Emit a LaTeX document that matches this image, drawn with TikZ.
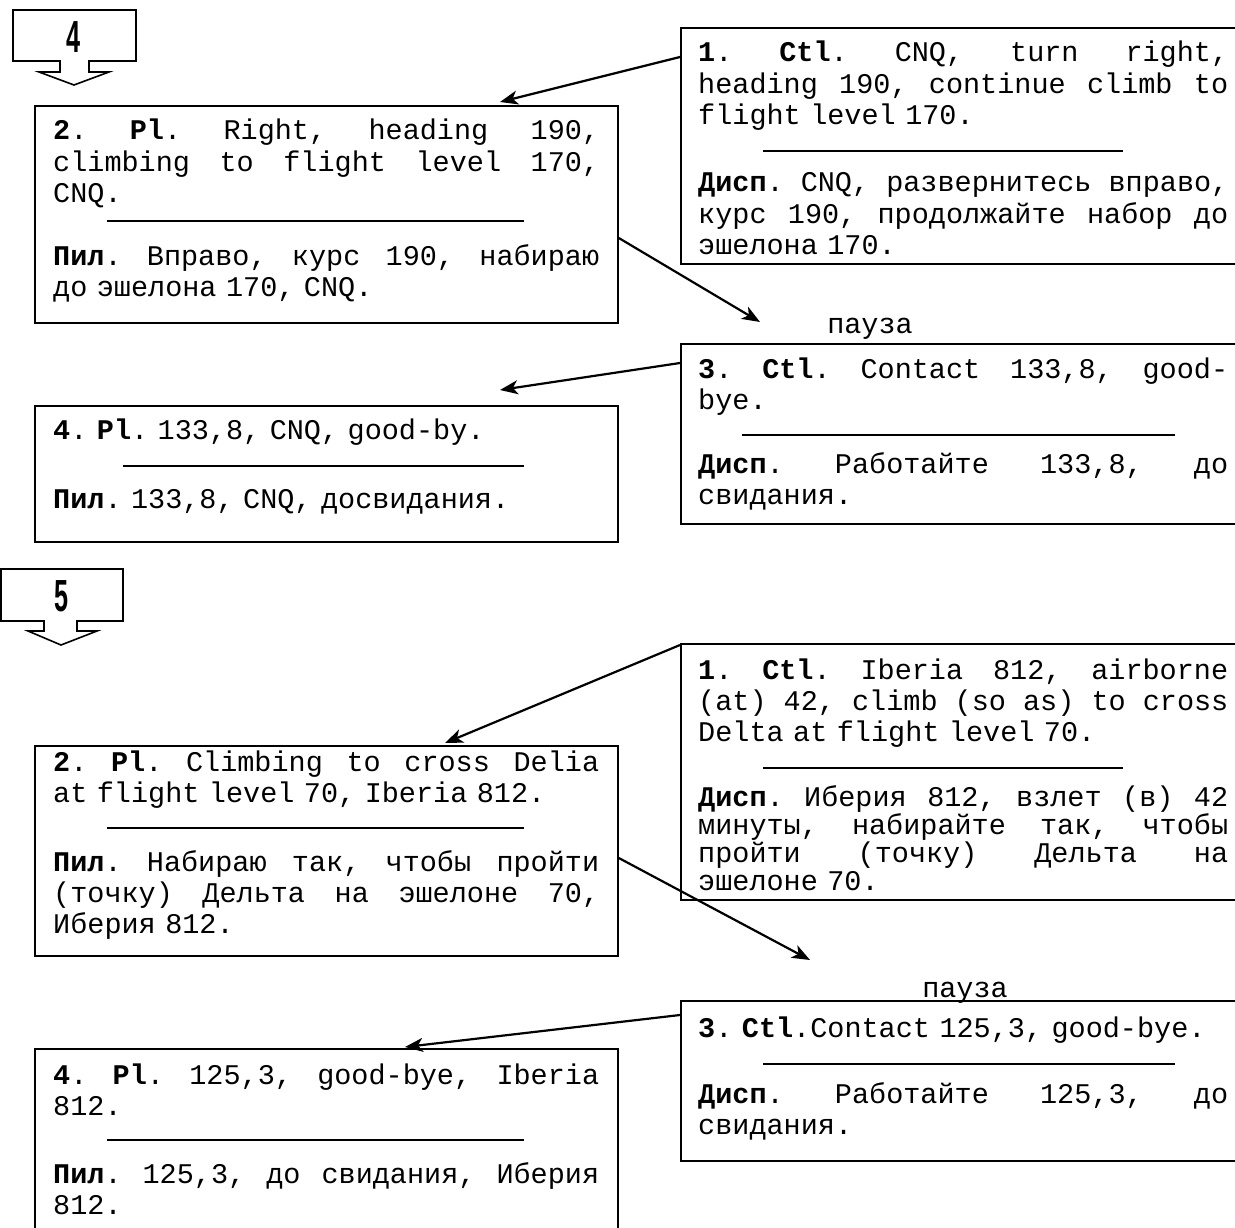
\documentclass[tikz,border=0pt]{standalone}
\usepackage{fontspec}
\usepackage{graphicx}
\setmonofont{Liberation Mono}
\setsansfont{Liberation Sans}
\usetikzlibrary{arrows.meta}
\frenchspacing

% monospaced body text, fixed word spaces; \jl spreads a line to the full width
\newcommand\msz{\ttfamily\fontsize{28.5}{31.3}\selectfont\spaceskip=.6em\relax}
\newcommand\mszt{\ttfamily\fontsize{28.5}{28}\selectfont\spaceskip=.6em\relax\lineskiplimit=-50pt\relax}
\newcommand\jl[1]{\makebox[\linewidth][s]{\spaceskip=.6em plus 1fil\relax#1}}
\newcommand\stepnum[1]{\scalebox{0.56}[1]{\sffamily\bfseries\fontsize{45}{45}\selectfont #1}}

\tikzset{
  frame/.style={draw, line width=1.8pt, inner sep=0pt, anchor=north west},
  txtL/.style={anchor=base west, inner sep=0pt, text width=546pt, align=left, font=\msz},
  txtR/.style={anchor=base west, inner sep=0pt, text width=530pt, align=left, font=\msz},
  sepline/.style={line width=1.6pt},
  link/.style={line width=2.2pt, -{Stealth[length=18pt,width=14pt,inset=5pt]}},
  pause/.style={anchor=base, inner sep=0pt, font=\msz},
  stepsign/.style={line width=1.6pt, line join=miter},
}

\begin{document}
\begin{tikzpicture}[x=1pt,y=-1pt]
\useasboundingbox (0,0) rectangle (1235,1228);
\clip (0,0) rectangle (1235,1228);

% ---------------- step 4 ----------------
\draw[stepsign] (13,10) -- (136,10) -- (136,61) -- (89,61) -- (89,72) -- (109,72)
  -- (74,85) -- (39,72) -- (60,72) -- (60,61) -- (13,61) -- cycle;
\node[inner sep=0pt] (n4) at (74,37) {\stepnum{4}};

\node[frame, minimum width=620pt, minimum height=236pt] (a1) at (680,27) {};
\node[txtR] (a1e) at (698,62) {\jl{\textbf{1}. \textbf{Ctl}. CNQ, turn right,}\\
  \jl{heading 190, continue climb to}\\ flight level 170.};
\draw[sepline] (763,151) -- (1123,151);
\node[txtR] (a1r) at (698,192) {\jl{\textbf{Дисп}. CNQ, развернитесь вправо,}\\
  \jl{курс 190, продолжайте набор до}\\ эшелона 170.};

\node[frame, minimum width=583pt, minimum height=217pt] (a2) at (34,105) {};
\node[txtL] (a2e) at (53,140) {\jl{\textbf{2}. \textbf{Pl}. Right, heading 190,}\\
  \jl{climbing to flight level 170,}\\ CNQ.};
\draw[sepline] (107,221) -- (524,221);
\node[txtL] (a2r) at (53,265) {\jl{\textbf{Пил}. Вправо, курс 190, набираю}\\
  до эшелона 170, CNQ.};

\node[pause] (p4) at (870,333) {пауза};

\node[frame, minimum width=620pt, minimum height=180pt] (a3) at (680,343) {};
\node[txtR] (a3e) at (698,378) {\jl{\textbf{3}. \textbf{Ctl}. Contact 133,8, good-}\\ bye.};
\draw[sepline] (742,435) -- (1175,435);
\node[txtR] (a3r) at (698,473) {\jl{\textbf{Дисп}. Работайте 133,8, до}\\ свидания.};

\node[frame, minimum width=583pt, minimum height=136pt] (a4) at (34,405) {};
\node[txtL] (a4e) at (53,439) {\textbf{4}. \textbf{Pl}. 133,8, CNQ, good-by.};
\draw[sepline] (123,466) -- (524,466);
\node[txtL] (a4r) at (53,508) {\textbf{Пил}. 133,8, CNQ, досвидания.};

\draw[link] ([yshift=-30pt]a1.north west) -- ([xshift=466pt,yshift=3pt]a2.north west);
\draw[link] ([yshift=-133pt]a2.north east) -- ([xshift=80pt,yshift=21pt]a3.north west);
\draw[link] ([yshift=-20pt]a3.north west) -- ([xshift=466pt,yshift=15pt]a4.north west);

% ---------------- step 5 ----------------
\draw[stepsign] (1,569) -- (123,569) -- (123,621) -- (77,621) -- (77,631) -- (97,631)
  -- (61,645) -- (28,631) -- (44,631) -- (44,621) -- (1,621) -- cycle;
\node[inner sep=0pt] (n5) at (62,596) {\stepnum{5}};

\node[frame, minimum width=620pt, minimum height=256pt] (b1) at (680,643) {};
\node[txtR] (b1e) at (698,679) {\jl{\textbf{1}. \textbf{Ctl}. Iberia 812, airborne}\\
  \jl{(at) 42, climb (so as) to cross}\\ Delta at flight level 70.};
\draw[sepline] (763,768) -- (1123,768);
\node[txtR, font=\mszt] (b1r) at (698,806) {\jl{\textbf{Дисп}. Иберия 812, взлет (в) 42}\\
  \jl{минуты, набирайте так, чтобы}\\ \jl{пройти (точку) Дельта на}\\ эшелоне 70.};

\node[frame, minimum width=583pt, minimum height=210pt] (b2) at (34,745) {};
\node[txtL] (b2e) at (53,771) {\jl{\textbf{2}. \textbf{Pl}. Climbing to cross Delia}\\
  at flight level 70, Iberia 812.};
\draw[sepline] (107,828) -- (524,828);
\node[txtL] (b2r) at (53,871) {\jl{\textbf{Пил}. Набираю так, чтобы пройти}\\
  \jl{(точку) Дельта на эшелоне 70,}\\ Иберия 812.};

\node[pause] (p5) at (965,997) {пауза};

\node[frame, minimum width=620pt, minimum height=160pt] (b3) at (680,1000) {};
\node[txtR] (b3e) at (698,1037) {\textbf{3}. \textbf{Ctl}.Contact 125,3, good-bye.};
\draw[sepline] (763,1064) -- (1175,1064);
\node[txtR] (b3r) at (698,1103) {\jl{\textbf{Дисп}. Работайте 125,3, до}\\ свидания.};

\node[frame, minimum width=583pt, minimum height=220pt] (b4) at (34,1048) {};
\node[txtL] (b4e) at (53,1084) {\jl{\textbf{4}. \textbf{Pl}. 125,3, good-bye, Iberia}\\ 812.};
\draw[sepline] (107,1140) -- (524,1140);
\node[txtL] (b4r) at (53,1183) {\jl{\textbf{Пил}. 125,3, до свидания, Иберия}\\ 812.};

\draw[link] ([yshift=-2pt]b1.north west) -- ([xshift=411pt,yshift=2pt]b2.north west);
\draw[link] ([yshift=-113pt]b2.north east) -- ([xshift=130pt,yshift=40pt]b3.north west);
\draw[link] ([yshift=-15pt]b3.north west) -- ([xshift=371pt,yshift=1pt]b4.north west);
\end{tikzpicture}
\end{document}
